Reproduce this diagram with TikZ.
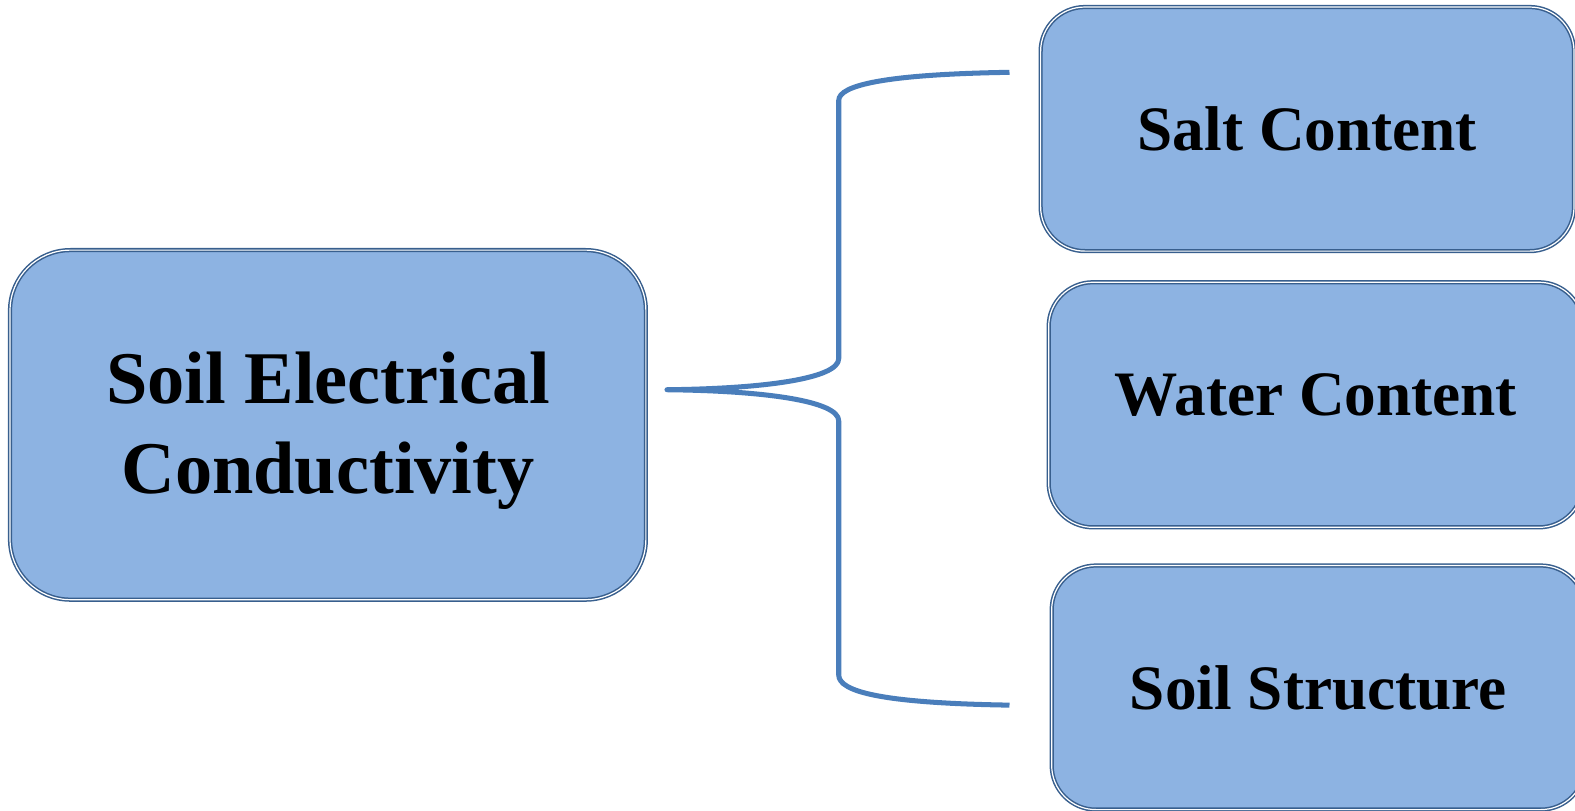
\documentclass[tikz,border=0pt]{standalone}
\usepackage{fontspec}
\setmainfont{Liberation Serif}
\definecolor{boxfill}{HTML}{8DB3E2}
\definecolor{boxline}{HTML}{385F8E}
\definecolor{bracecol}{HTML}{4A7EBB}
\newcommand{\shifted}[2]{\raisebox{#1}[\height][\depth]{#2}}
\begin{document}
\begin{tikzpicture}[x=0.5pt,y=-0.5pt,
  factor/.style={draw=boxline, double=white, line width=0.75pt, double distance=0.6pt,
    fill=boxfill, rounded corners=22pt, align=center, inner sep=0pt,
    font=\fontsize{31.5}{38}\selectfont\bfseries},
  mainbox/.style={factor, rounded corners=30pt,
    font=\fontsize{37}{45}\selectfont\bfseries},
  bracket/.style={draw=bracecol, line width=2.5pt, line join=round}]
\useasboundingbox (0,0) rectangle (1568,807);
\node[mainbox, minimum width=316.5pt, minimum height=174pt] (ec) at (326.5,423)
  {\shifted{-3pt}{Soil Electrical}\\\shifted{-3pt}{Conductivity}};
\node[factor, minimum width=265.5pt, minimum height=121.5pt] (salt) at (1301.5,128.5) {Salt Content};
\node[factor, minimum width=266pt, minimum height=122pt] (water) at (1310,403) {\shifted{5pt}{Water Content}};
\node[factor, minimum width=265.5pt, minimum height=121.5pt] (struct) at (1312.5,684.5) {Soil Structure};
% brace joining the main box to the three factors
\coordinate (tip) at (664,388);
\coordinate (topend) at (1005,72);
\coordinate (botend) at (1005,702);
\draw[bracket] (topend) .. controls (880,74) and (835,85) .. (835,100)
  -- (835,357) .. controls (835,377) and (760,387) .. (tip)
  .. controls (760,389) and (835,399) .. (835,419)
  -- (835,672) .. controls (835,689) and (880,700) .. (botend);
\end{tikzpicture}
\end{document}
